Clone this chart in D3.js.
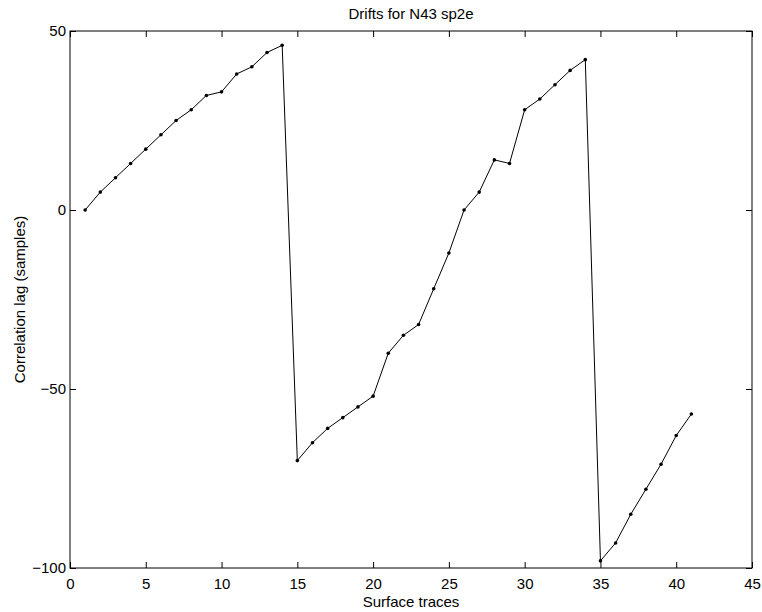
<!DOCTYPE html>
<html>
<head>
<meta charset="utf-8">
<script src="https://cdn.jsdelivr.net/npm/d3@7"></script>
<style>
  html, body { margin: 0; padding: 0; background: #fff; }
  svg { display: block; font-family: "Liberation Sans", Arial, Helvetica, sans-serif; }
</style>
</head>
<body>
<svg id="chart" width="762" height="612"></svg>
<script>
const traces = d3.range(1, 42);
const lags = [0, 5, 9, 13, 17, 21, 25, 28, 32, 33, 38, 40, 44, 46,
  -70, -65, -61, -58, -55, -52, -40, -35, -32, -22, -12, 0, 5, 14, 13, 28,
  31, 35, 39, 42, -98, -93, -85, -78, -71, -63, -57];
const xTicks = [0, 5, 10, 15, 20, 25, 30, 35, 40, 45];
const yTicks = [-100, -50, 0, 50];
const yTickLabels = ["\u2212100", "\u221250", "0", "50"];
const titleText = "Drifts for N43 sp2e";
const xLabel = "Surface traces";
const yLabel = "Correlation lag (samples)";

(function () {
const svg = d3.select("#chart");
const mLeft = 70, mRight = 752, mTop = 31, mBottom = 568;
const fs = "15px";
const x = d3.scaleLinear().domain([0, 45]).range([mLeft, mRight]);
const y = d3.scaleLinear().domain([-100, 50]).range([mBottom, mTop]);
const tickLen = 6;

svg.append("rect").attr("x", mLeft).attr("y", mTop)
  .attr("width", mRight - mLeft).attr("height", mBottom - mTop)
  .attr("fill", "none").attr("stroke", "#000").attr("stroke-width", 1);

const xAxis = svg.append("g").attr("transform", `translate(0,${mBottom})`)
  .call(d3.axisBottom(x).tickValues(xTicks).tickSizeInner(-tickLen).tickSizeOuter(0).tickPadding(10));
const xAxisTop = svg.append("g").attr("transform", `translate(0,${mTop})`)
  .call(d3.axisTop(x).tickValues(xTicks).tickSizeInner(-tickLen).tickSizeOuter(0).tickFormat(""));
const yAxis = svg.append("g").attr("transform", `translate(${mLeft},0)`)
  .call(d3.axisLeft(y).tickValues(yTicks).tickSizeInner(-tickLen).tickSizeOuter(0).tickPadding(4)
    .tickFormat((d, i) => yTickLabels[i]));
const yAxisR = svg.append("g").attr("transform", `translate(${mRight},0)`)
  .call(d3.axisRight(y).tickValues(yTicks).tickSizeInner(-tickLen).tickSizeOuter(0).tickFormat(""));

[xAxis, xAxisTop, yAxis, yAxisR].forEach(g => {
  g.select(".domain").remove();
  g.selectAll("line").attr("stroke", "#000");
  g.selectAll("text").attr("fill", "#000").style("font-size", fs)
    .style("font-family", '"Liberation Sans", Arial, sans-serif');
});
xAxis.selectAll("text").attr("y", 10);

const line = d3.line().x((d, i) => x(traces[i])).y(d => y(d));
svg.append("path").datum(lags).attr("d", line)
  .attr("fill", "none").attr("stroke", "#000").attr("stroke-width", 1);

svg.append("g").selectAll("circle").data(lags).join("circle")
  .attr("cx", (d, i) => x(traces[i])).attr("cy", d => y(d)).attr("r", 1.8).attr("fill", "#000");

svg.append("text").attr("x", (mLeft + mRight) / 2).attr("y", 19)
  .attr("text-anchor", "middle").style("font-size", fs).text(titleText);
svg.append("text").attr("x", (mLeft + mRight) / 2).attr("y", 607)
  .attr("text-anchor", "middle").style("font-size", fs).text(xLabel);
svg.append("text").attr("transform", `translate(25,${(mTop + mBottom) / 2}) rotate(-90)`)
  .attr("text-anchor", "middle").style("font-size", fs).text(yLabel);
})();
</script>
</body>
</html>
